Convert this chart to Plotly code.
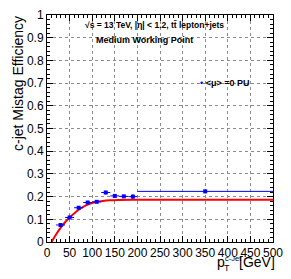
import plotly.graph_objects as go

# Measured points (bin centres, half-widths, efficiency, error)
pt_center = [30, 50, 70, 90, 110, 130, 150, 170, 190, 350]
pt_halfwidth = [10, 10, 10, 10, 10, 10, 10, 10, 10, 150]
efficiency = [0.075, 0.108, 0.151, 0.174, 0.177, 0.218, 0.203, 0.201, 0.200, 0.223]
eff_error = [0.005, 0.006, 0.005, 0.005, 0.004, 0.008, 0.006, 0.007, 0.010, 0.008]

# Fit curve
fit_pt = [10, 20, 30, 40, 50, 60, 70, 80, 90, 100, 110, 120, 140, 160, 200, 300, 400, 500]
fit_eff = [0.0, 0.033, 0.062, 0.087, 0.108, 0.126, 0.142, 0.155, 0.165, 0.172, 0.177, 0.180,
           0.184, 0.1855, 0.186, 0.186, 0.186, 0.186]

x_ticks = [0, 50, 100, 150, 200, 250, 300, 350, 400, 450, 500]
y_ticks = [0, 0.1, 0.2, 0.3, 0.4, 0.5, 0.6, 0.7, 0.8, 0.9, 1]
y_tick_text = ["0", "0.1", "0.2", "0.3", "0.4", "0.5", "0.6", "0.7", "0.8", "0.9", "1"]

FONT = "Liberation Sans, Arial, Helvetica, sans-serif"

fig = go.Figure()
fig.add_trace(go.Scatter(
    x=fit_pt, y=fit_eff, mode="lines", line=dict(color="#ff0000", width=2, shape="spline"),
    showlegend=False, hoverinfo="skip"))
fig.add_trace(go.Scatter(
    x=pt_center, y=efficiency, mode="markers",
    marker=dict(color="#0000ff", size=4, symbol="square"),
    error_x=dict(type="data", array=pt_halfwidth, color="#0000ff", thickness=1, width=0),
    error_y=dict(type="data", array=eff_error, color="#0000ff", thickness=1, width=0),
    showlegend=False))

axis_common = dict(
    showline=True, linecolor="black", linewidth=1, mirror="ticks",
    ticks="inside", ticklen=6, tickcolor="black", tickwidth=1,
    showgrid=True, gridcolor="#8c8c8c", griddash="dot", gridwidth=1,
    zeroline=False, tickfont=dict(family=FONT, size=12, color="black"),
    ticklabeloverflow="allow",
)

fig.update_xaxes(range=[0, 500], tickvals=x_ticks, ticktext=[str(v) for v in x_ticks],
                 minor=dict(ticks="inside", ticklen=3, dtick=10, tickcolor="black", showgrid=False),
                 **axis_common)
fig.update_yaxes(range=[0, 1], tickvals=y_ticks, ticktext=y_tick_text,
                 minor=dict(ticks="inside", ticklen=3, dtick=0.02, tickcolor="black", showgrid=False),
                 **axis_common)

W, H = 291, 279
L, R, T, B = 47, 8, 14, 37
pw, ph = W - L - R, H - T - B

def px(xp):
    return (xp - L) / pw

def py(yp):
    return (H - B - yp) / ph

ann = []
ann.append(dict(x=px(85), y=py(24), text="<b>√s = 13 TeV, |η| < 1.2, tt̄ lepton+jets</b>",
                font=dict(family=FONT, size=8.5, color="black"), xanchor="left", yanchor="middle"))
ann.append(dict(x=px(96), y=py(39), text="<b>Medium Working Point</b>",
                font=dict(family=FONT, size=9, color="black"), xanchor="left", yanchor="middle"))
ann.append(dict(x=px(205), y=py(82),
                text="<span style='color:#0000ff'>•</span> <b>&lt;μ&gt; =0 PU</b>",
                font=dict(family=FONT, size=9, color="black"), xanchor="left", yanchor="middle"))
ann.append(dict(x=px(16), y=py(83), text="c-jet Mistag Efficiency", textangle=-90,
                font=dict(family=FONT, size=14, color="black"), xanchor="center", yanchor="middle"))
ann.append(dict(x=px(222), y=py(262), text="p",
                font=dict(family=FONT, size=14, color="black"), xanchor="left", yanchor="middle"))
ann.append(dict(x=px(230), y=py(268), text="T",
                font=dict(family=FONT, size=9, color="black"), xanchor="left", yanchor="middle"))
ann.append(dict(x=px(231), y=py(259), text="c-Jet",
                font=dict(family=FONT, size=7.5, color="black"), xanchor="left", yanchor="middle"))
ann.append(dict(x=px(287), y=py(262), text="[GeV]",
                font=dict(family=FONT, size=14, color="black"), xanchor="right", yanchor="middle"))
for a in ann:
    a.update(xref="paper", yref="paper", showarrow=False)

fig.update_layout(
    width=W, height=H, margin=dict(l=L, r=R, t=T, b=B, pad=0),
    paper_bgcolor="white", plot_bgcolor="white",
    annotations=ann, showlegend=False,
    font=dict(family=FONT, color="black"),
)

fig.write_html("out.html", config={"displayModeBar": False},
               post_script="document.body.style.margin='0';document.body.style.padding='0';")
